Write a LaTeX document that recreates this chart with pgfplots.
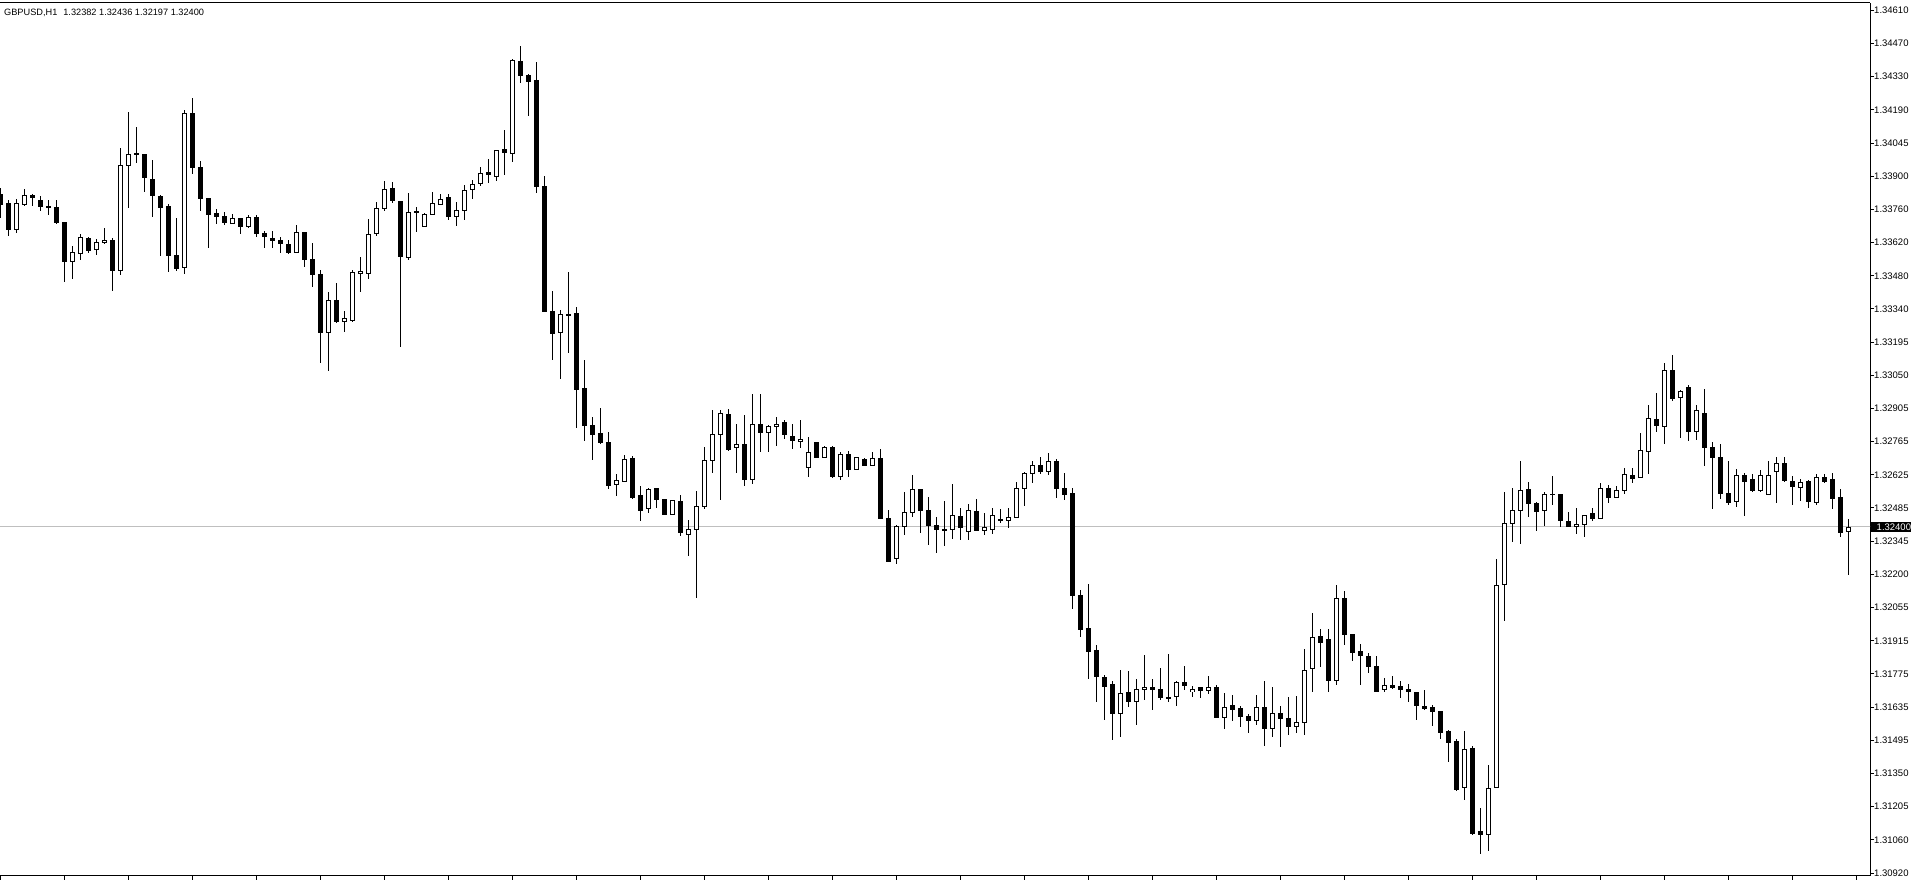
\documentclass[border=0pt]{standalone}
\usepackage{fontspec}
\setmainfont{Liberation Sans}
\usepackage{pgfplots}
\usepackage{pgfplotstable}
\pgfplotsset{compat=1.18}

\pgfplotstableread{
i o h l c
0 1.33824 1.33848 1.33720 1.33781
1 1.33781 1.33798 1.33646 1.33673
2 1.33673 1.33802 1.33658 1.33781
3 1.33779 1.33844 1.33774 1.33815
4 1.33817 1.33824 1.33774 1.33811
5 1.33798 1.33815 1.33752 1.33769
6 1.33771 1.33798 1.33735 1.33765
7 1.33768 1.33798 1.33697 1.33701
8 1.33704 1.33704 1.33449 1.33534
9 1.33536 1.33601 1.33462 1.33574
10 1.33570 1.33653 1.33541 1.33638
11 1.33636 1.33641 1.33573 1.33584
12 1.33586 1.33631 1.33564 1.33618
13 1.33617 1.33678 1.33611 1.33626
14 1.33627 1.33634 1.33410 1.33496
15 1.33497 1.34020 1.33477 1.33946
16 1.33946 1.34174 1.33765 1.33993
17 1.33997 1.34110 1.33958 1.33992
18 1.33995 1.33997 1.33834 1.33893
19 1.33886 1.33969 1.33727 1.33817
20 1.33815 1.33819 1.33560 1.33765
21 1.33768 1.33781 1.33492 1.33560
22 1.33559 1.33721 1.33496 1.33504
23 1.33509 1.34186 1.33483 1.34168
24 1.34168 1.34233 1.33911 1.33936
25 1.33939 1.33965 1.33751 1.33804
26 1.33807 1.33807 1.33594 1.33735
27 1.33742 1.33760 1.33697 1.33727
28 1.33728 1.33747 1.33691 1.33701
29 1.33698 1.33738 1.33694 1.33720
30 1.33720 1.33724 1.33654 1.33685
31 1.33684 1.33734 1.33680 1.33724
32 1.33725 1.33734 1.33641 1.33654
33 1.33655 1.33665 1.33593 1.33641
34 1.33634 1.33665 1.33593 1.33624
35 1.33627 1.33641 1.33573 1.33611
36 1.33608 1.33630 1.33569 1.33573
37 1.33574 1.33691 1.33573 1.33660
38 1.33657 1.33657 1.33513 1.33543
39 1.33544 1.33613 1.33427 1.33479
40 1.33480 1.33499 1.33103 1.33231
41 1.33231 1.33405 1.33068 1.33369
42 1.33369 1.33442 1.33274 1.33278
43 1.33278 1.33323 1.33235 1.33292
44 1.33282 1.33499 1.33278 1.33489
45 1.33483 1.33554 1.33406 1.33494
46 1.33483 1.33717 1.33462 1.33651
47 1.33655 1.33789 1.33646 1.33762
48 1.33761 1.33881 1.33751 1.33844
49 1.33848 1.33875 1.33785 1.33795
50 1.33792 1.33792 1.33167 1.33556
51 1.33551 1.33828 1.33541 1.33745
52 1.33751 1.33768 1.33663 1.33744
53 1.33688 1.33744 1.33688 1.33737
54 1.33737 1.33832 1.33734 1.33781
55 1.33779 1.33825 1.33777 1.33801
56 1.33811 1.33822 1.33714 1.33727
57 1.33728 1.33789 1.33688 1.33754
58 1.33754 1.33862 1.33714 1.33839
59 1.33842 1.33883 1.33804 1.33865
60 1.33870 1.33939 1.33857 1.33911
61 1.33916 1.33972 1.33870 1.33906
62 1.33901 1.34013 1.33880 1.34009
63 1.34014 1.34096 1.33906 1.34003
64 1.33998 1.34400 1.33962 1.34395
65 1.34391 1.34456 1.34299 1.34332
66 1.34332 1.34337 1.34158 1.34305
67 1.34307 1.34387 1.33829 1.33857
68 1.33857 1.33900 1.33320 1.33320
69 1.33322 1.33409 1.33116 1.33229
70 1.33232 1.33327 1.33036 1.33309
71 1.33311 1.33491 1.33145 1.33307
72 1.33314 1.33340 1.32825 1.32987
73 1.32990 1.33114 1.32769 1.32834
74 1.32836 1.32869 1.32687 1.32798
75 1.32802 1.32908 1.32753 1.32761
76 1.32762 1.32805 1.32563 1.32576
77 1.32582 1.32628 1.32535 1.32599
78 1.32597 1.32707 1.32594 1.32689
79 1.32694 1.32704 1.32520 1.32528
80 1.32535 1.32574 1.32427 1.32470
81 1.32479 1.32566 1.32463 1.32561
82 1.32566 1.32566 1.32483 1.32520
83 1.32517 1.32517 1.32455 1.32455
84 1.32455 1.32514 1.32455 1.32514
85 1.32510 1.32537 1.32360 1.32376
86 1.32368 1.32429 1.32275 1.32389
87 1.32389 1.32553 1.32098 1.32488
88 1.32488 1.32744 1.32479 1.32686
89 1.32686 1.32900 1.32632 1.32797
90 1.32797 1.32900 1.32514 1.32887
91 1.32882 1.32906 1.32725 1.32730
92 1.32741 1.32841 1.32632 1.32753
93 1.32754 1.32879 1.32576 1.32602
94 1.32604 1.32969 1.32586 1.32839
95 1.32839 1.32969 1.32722 1.32805
96 1.32805 1.32838 1.32722 1.32831
97 1.32831 1.32870 1.32748 1.32839
98 1.32849 1.32856 1.32777 1.32797
99 1.32787 1.32839 1.32735 1.32771
100 1.32766 1.32857 1.32740 1.32776
101 1.32654 1.32784 1.32615 1.32720
102 1.32762 1.32762 1.32697 1.32697
103 1.32697 1.32746 1.32695 1.32741
104 1.32741 1.32744 1.32610 1.32615
105 1.32615 1.32720 1.32602 1.32712
106 1.32712 1.32725 1.32615 1.32646
107 1.32646 1.32697 1.32646 1.32697
108 1.32689 1.32697 1.32661 1.32664
109 1.32664 1.32720 1.32659 1.32694
110 1.32694 1.32733 1.32435 1.32435
111 1.32437 1.32473 1.32252 1.32252
112 1.32267 1.32409 1.32242 1.32402
113 1.32402 1.32550 1.32365 1.32461
114 1.32461 1.32622 1.32445 1.32561
115 1.32561 1.32561 1.32376 1.32470
116 1.32473 1.32528 1.32322 1.32407
117 1.32407 1.32442 1.32288 1.32389
118 1.32391 1.32511 1.32320 1.32388
119 1.32390 1.32584 1.32348 1.32450
120 1.32445 1.32481 1.32344 1.32397
121 1.32384 1.32498 1.32344 1.32471
122 1.32467 1.32519 1.32384 1.32384
123 1.32385 1.32460 1.32367 1.32398
124 1.32390 1.32481 1.32371 1.32450
125 1.32431 1.32477 1.32418 1.32433
126 1.32428 1.32481 1.32397 1.32441
127 1.32441 1.32592 1.32441 1.32565
128 1.32565 1.32635 1.32491 1.32629
129 1.32629 1.32682 1.32589 1.32663
130 1.32663 1.32699 1.32629 1.32641
131 1.32638 1.32716 1.32623 1.32681
132 1.32682 1.32690 1.32525 1.32564
133 1.32566 1.32631 1.32517 1.32538
134 1.32544 1.32566 1.32051 1.32106
135 1.32108 1.32130 1.31931 1.31961
136 1.31966 1.32156 1.31751 1.31867
137 1.31870 1.31895 1.31653 1.31760
138 1.31758 1.31767 1.31576 1.31721
139 1.31728 1.31741 1.31490 1.31602
140 1.31603 1.31788 1.31503 1.31689
141 1.31693 1.31784 1.31632 1.31653
142 1.31654 1.31750 1.31555 1.31706
143 1.31706 1.31852 1.31660 1.31714
144 1.31714 1.31750 1.31619 1.31704
145 1.31706 1.31797 1.31661 1.31670
146 1.31673 1.31857 1.31653 1.31666
147 1.31676 1.31740 1.31636 1.31736
148 1.31736 1.31807 1.31703 1.31721
149 1.31697 1.31718 1.31674 1.31706
150 1.31714 1.31714 1.31670 1.31700
151 1.31701 1.31764 1.31687 1.31714
152 1.31716 1.31724 1.31585 1.31585
153 1.31586 1.31690 1.31537 1.31629
154 1.31639 1.31683 1.31572 1.31619
155 1.31622 1.31634 1.31546 1.31589
156 1.31592 1.31600 1.31520 1.31572
157 1.31573 1.31681 1.31552 1.31629
158 1.31629 1.31741 1.31465 1.31537
159 1.31539 1.31716 1.31503 1.31604
160 1.31604 1.31634 1.31461 1.31582
161 1.31583 1.31673 1.31513 1.31546
162 1.31547 1.31679 1.31518 1.31565
163 1.31565 1.31878 1.31513 1.31787
164 1.31795 1.32032 1.31696 1.31928
165 1.31932 1.31965 1.31803 1.31907
166 1.31917 1.31965 1.31696 1.31743
167 1.31743 1.32152 1.31726 1.32095
168 1.32095 1.32126 1.31895 1.31939
169 1.31942 1.31945 1.31827 1.31862
170 1.31868 1.31898 1.31723 1.31850
171 1.31847 1.31860 1.31777 1.31803
172 1.31805 1.31848 1.31696 1.31696
173 1.31706 1.31754 1.31696 1.31723
174 1.31724 1.31764 1.31709 1.31714
175 1.31716 1.31741 1.31670 1.31704
176 1.31706 1.31727 1.31653 1.31696
177 1.31694 1.31694 1.31576 1.31636
178 1.31634 1.31704 1.31619 1.31625
179 1.31629 1.31637 1.31547 1.31611
180 1.31610 1.31614 1.31494 1.31524
181 1.31527 1.31532 1.31397 1.31479
182 1.31484 1.31494 1.31272 1.31280
183 1.31287 1.31529 1.31235 1.31449
184 1.31452 1.31464 1.31082 1.31088
185 1.31097 1.31197 1.31004 1.31085
186 1.31085 1.31382 1.31017 1.31284
187 1.31286 1.32265 1.31286 1.32153
188 1.32156 1.32549 1.32000 1.32415
189 1.32415 1.32568 1.32334 1.32469
190 1.32471 1.32684 1.32330 1.32556
191 1.32559 1.32592 1.32445 1.32501
192 1.32502 1.32507 1.32385 1.32466
193 1.32471 1.32549 1.32406 1.32540
194 1.32540 1.32618 1.32496 1.32540
195 1.32540 1.32540 1.32399 1.32427
196 1.32426 1.32463 1.32399 1.32402
197 1.32403 1.32480 1.32372 1.32411
198 1.32412 1.32450 1.32360 1.32450
199 1.32457 1.32481 1.32427 1.32435
200 1.32436 1.32588 1.32436 1.32565
201 1.32567 1.32579 1.32505 1.32526
202 1.32526 1.32574 1.32526 1.32556
203 1.32556 1.32655 1.32541 1.32625
204 1.32621 1.32652 1.32586 1.32610
205 1.32612 1.32805 1.32612 1.32727
206 1.32723 1.32921 1.32627 1.32864
207 1.32859 1.32976 1.32807 1.32834
208 1.32829 1.33101 1.32757 1.33070
209 1.33070 1.33136 1.32940 1.32948
210 1.32954 1.32988 1.32783 1.32978
211 1.32995 1.33007 1.32769 1.32808
212 1.32808 1.32921 1.32774 1.32897
213 1.32885 1.32990 1.32663 1.32742
214 1.32742 1.32762 1.32478 1.32696
215 1.32696 1.32753 1.32522 1.32546
216 1.32543 1.32682 1.32496 1.32508
217 1.32508 1.32648 1.32487 1.32621
218 1.32621 1.32631 1.32445 1.32595
219 1.32601 1.32627 1.32550 1.32555
220 1.32556 1.32643 1.32550 1.32621
221 1.32540 1.32682 1.32540 1.32624
222 1.32637 1.32699 1.32504 1.32672
223 1.32672 1.32699 1.32594 1.32597
224 1.32594 1.32618 1.32492 1.32573
225 1.32570 1.32607 1.32511 1.32594
226 1.32597 1.32603 1.32483 1.32511
227 1.32505 1.32627 1.32495 1.32612
228 1.32612 1.32627 1.32586 1.32594
229 1.32604 1.32630 1.32478 1.32522
230 1.32526 1.32562 1.32360 1.32376
231 1.32382 1.32436 1.32197 1.32400
}\candles

\begin{document}
\begin{tikzpicture}
\path[use as bounding box] (0,0) rectangle (1912pt,882pt);
\begin{axis}[
  at={(0pt,6pt)}, anchor=south west,
  width=1870pt, height=873pt, scale only axis,
  xmin=-0.0375, xmax=233.7125,
  ymin=1.309075, ymax=1.346402,
  axis x line*=box, axis y line*=right,
  xtick pos=left, ytick pos=right,
  tick align=outside, major tick length=4pt,
  xtick={0,8,...,232}, xticklabels={},
  ytick={1.30920,1.31062,1.31204,1.31346,1.31488,1.31630,1.31772,1.31913,1.32055,1.32197,1.32339,1.32481,1.32623,1.32765,1.32907,1.33048,1.33190,1.33332,1.33474,1.33616,1.33758,1.33900,1.34041,1.34183,1.34325,1.34467,1.34609},
  yticklabels={1.30920,1.31060,1.31205,1.31350,1.31495,1.31635,1.31775,1.31915,1.32055,1.32200,1.32345,1.32485,1.32625,1.32765,1.32905,1.33050,1.33195,1.33340,1.33480,1.33620,1.33760,1.33900,1.34045,1.34190,1.34330,1.34470,1.34610},
  yticklabel style={font=\fontsize{9.5}{11}\selectfont, anchor=west, inner sep=0pt, xshift=0pt},
  axis line style={line width=1pt, black},
  tick style={line width=1pt, black},
  clip mode=individual,
]
\addplot[gray!50, line width=1pt, forget plot, no markers] coordinates {(-1,1.32400) (240,1.32400)};
% wicks
\addplot[draw=none, no markers, forget plot,
  error bars/.cd, y dir=both, y explicit, error mark=none,
  error bar style={draw=black, line width=1pt}]
  table[x=i, y expr={(\thisrow{h}+\thisrow{l})/2}, y error expr={(\thisrow{h}-\thisrow{l})/2}] {\candles};
% bodies (outer, black)
\addplot[draw=none, no markers, forget plot,
  error bars/.cd, y dir=both, y explicit, error mark=none,
  error bar style={draw=black, line width=5pt}]
  table[x=i, y expr={(\thisrow{o}+\thisrow{c})/2}, y error expr={abs(\thisrow{c}-\thisrow{o})/2+0.0000214}] {\candles};
% bullish bodies (inner, white)
\addplot[draw=none, no markers, forget plot,
  error bars/.cd, y dir=both, y explicit, error mark=none,
  error bar style={draw=white, line width=3pt}]
  table[x=i, y expr={(\thisrow{o}+\thisrow{c})/2}, y error expr={max((\thisrow{c}-\thisrow{o})/2-0.0000214,0)}] {\candles};
\node[anchor=west, inner sep=0pt, font=\fontsize{9.2}{11}\selectfont, xshift=4pt, yshift=-9.7pt] at (rel axis cs:0,1) {GBPUSD,H1\hspace{6pt}1.32382 1.32436 1.32197 1.32400};
\node[fill=black, text=white, anchor=west, inner xsep=0pt, inner ysep=1.5pt, font=\fontsize{9.5}{11}\selectfont, xshift=1pt] at (axis cs:233.7125,1.32400) {\hspace{5.5pt}1.32400\hspace{1.5pt}};
\end{axis}
\end{tikzpicture}
\end{document}
